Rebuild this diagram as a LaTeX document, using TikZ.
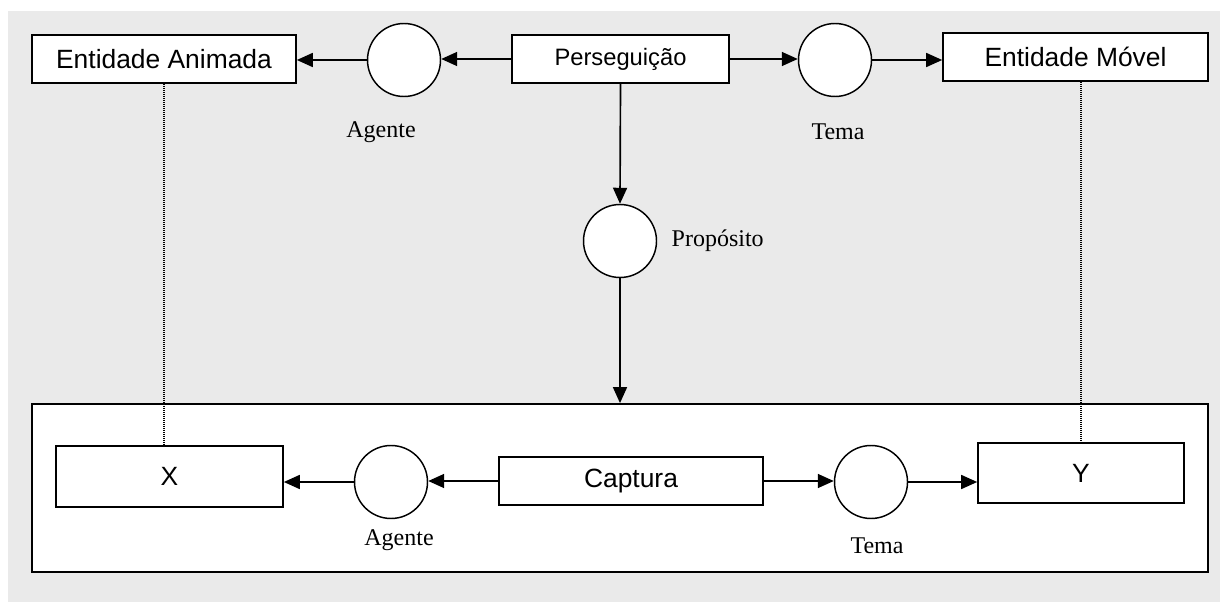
\documentclass[tikz,border=0pt]{standalone}
\usepackage{fontspec}
\setmainfont{Liberation Serif}
\setsansfont{Liberation Sans}
\usetikzlibrary{arrows.meta}
\definecolor{schemaBackdrop}{RGB}{234,234,234}
\definecolor{schemaInk}{RGB}{0,0,0}

\begin{document}
\begin{tikzpicture}[x=.75pt,y=-.75pt,
      concept/.style={draw=schemaInk, fill=white, line width=1.25pt,
        inner sep=0pt, font=\fontsize{19.8}{22}\selectfont\sffamily},
      relation/.style={circle, draw=schemaInk, fill=white, line width=1.1pt,
        inner sep=0pt, minimum size=54.75pt},
      role/.style={font=\fontsize{18}{20}\selectfont\rmfamily,
        text=schemaInk},
      link/.style={draw=schemaInk, line width=1.25pt,
        -{Triangle[length=12pt,width=10.5pt]}},
      corefer/.style={draw=schemaInk, line width=.8pt,
        dash pattern=on .75pt off .75pt}]
      \useasboundingbox (0,0) rectangle (1220,602);
      \fill[schemaBackdrop] (8,11) rectangle (1220,602);

      % upper schema
      \node[concept, minimum width=198pt, minimum height=36pt]
        (anim) at (164,59) {Entidade Animada};
      \node[relation] (agenteA) at (404,60) {};
      \node[concept, minimum width=162.75pt, minimum height=36pt,
        font=\fontsize{17.8}{20}\selectfont\sffamily]
        (perseg) at (620.5,59) {Perseguição};
      \node[relation] (temaA) at (835,60) {};
      \node[concept, minimum width=198.75pt, minimum height=36pt]
        (movel) at (1075.5,57) {Entidade Móvel};
      \node[relation] (prop) at (620,241) {};

      \node[role] (agenteAlabel) at (381,132) {Agente};
      \node[role] (temaAlabel) at (838,132) {Tema};
      \node[role, anchor=west] (proplabel) at (667,241) {Propósito};

      % lower schema
      \node[draw=schemaInk, fill=white, line width=1.35pt,
        minimum width=882pt, minimum height=126pt]
        (frame) at (620,488) {};
      \node[concept, minimum width=170.25pt, minimum height=45.75pt]
        (xbox) at (169.5,476.5) {X};
      \node[relation] (agenteB) at (391,482) {};
      \node[concept, minimum width=198pt, minimum height=36pt]
        (captura) at (631,481) {Captura};
      \node[relation] (temaB) at (871,482) {};
      \node[concept, minimum width=154.5pt, minimum height=45pt]
        (ybox) at (1081,473) {Y};

      \node[role] (agenteBlabel) at (399,540) {Agente};
      \node[role] (temaBlabel) at (877,546) {Tema};

      % connectors
      \draw[link] (perseg.west) -- (perseg.west -| agenteA.east);
      \draw[link] (agenteA.west) -- (agenteA.west -| anim.east);
      \draw[link] (perseg.east) -- (perseg.east -| temaA.west);
      \draw[link] (temaA.east) -- (temaA.east -| movel.west);
      \draw[link] (perseg.south) -- (prop.north);
      \draw[link] (prop.south) -- (prop.south |- frame.north);

      \draw[link] (captura.west) -- (captura.west -| agenteB.east);
      \draw[link] (agenteB.west) -- (agenteB.west -| xbox.east);
      \draw[link] (captura.east) -- (captura.east -| temaB.west);
      \draw[link] (temaB.east) -- (temaB.east -| ybox.west);

      \draw[corefer] (anim.south) -- (anim.south |- xbox.north);
      \draw[corefer] (ybox.north |- movel.south) -- (ybox.north);
    \end{tikzpicture}
\end{document}
